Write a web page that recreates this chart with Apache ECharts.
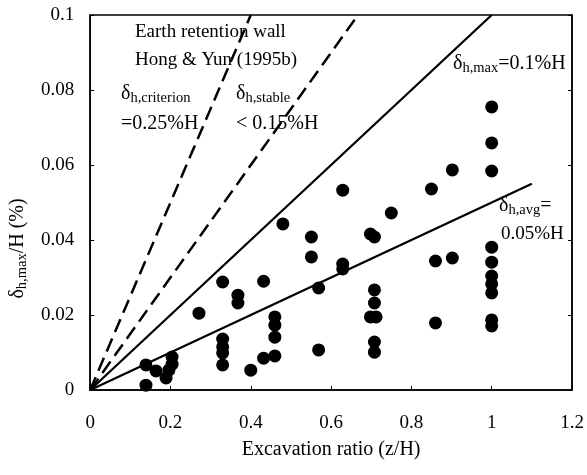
<!DOCTYPE html>
<html><head><meta charset="utf-8">
<script src="https://cdn.jsdelivr.net/npm/echarts@6/dist/echarts.min.js"></script>
<style>html,body{margin:0;padding:0;background:#fff}#c{width:587px;height:475px}</style>
</head><body><div id="c"></div>
<script>
// Scatter data: [z/H, delta_h,max/H (%)]
const points = [
  [0.139,0.0067],[0.139,0.0013],[0.164,0.0051],[0.189,0.0032],[0.196,0.0053],[0.204,0.0088],[0.204,0.0069],
  [0.271,0.0205],
  [0.330,0.0288],[0.330,0.0136],[0.330,0.0115],[0.330,0.0099],[0.330,0.0067],
  [0.368,0.0253],[0.368,0.0232],
  [0.400,0.0053],
  [0.432,0.0290],[0.432,0.0085],
  [0.460,0.0195],[0.460,0.0173],[0.460,0.0141],[0.460,0.0091],
  [0.480,0.0443],
  [0.551,0.0408],[0.551,0.0355],
  [0.569,0.0272],[0.569,0.0107],
  [0.629,0.0533],[0.629,0.0336],[0.629,0.0323],
  [0.698,0.0416],[0.708,0.0408],
  [0.708,0.0267],[0.708,0.0232],[0.698,0.0195],[0.712,0.0195],[0.708,0.0128],[0.708,0.0101],
  [0.750,0.0472],
  [0.850,0.0536],
  [0.860,0.0344],[0.860,0.0179],
  [0.902,0.0587],[0.902,0.0352],
  [1.0,0.0755],[1.0,0.0659],[1.0,0.0584],[1.0,0.0381],[1.0,0.0341],[1.0,0.0304],[1.0,0.0283],[1.0,0.0259],[1.0,0.0187],[1.0,0.0171]
];
// Reference lines (endpoints)
const lineCriterion = [[0,0],[0.4,0.1]];
const lineStable = [[0,0],[0.667,0.1]];
const lineMax = [[0,0],[1.0,0.1]];
const lineAvg = [[0,0],[1.1,0.055]];
const xTicks = [0,0.2,0.4,0.6,0.8,1,1.2];
const yTicks = [0,0.02,0.04,0.06,0.08,0.1];

const serif = 'Liberation Serif';
const chart = echarts.init(document.getElementById('c'));
const richStyles = {
  d: {fontFamily: serif, fontSize: 20, color: '#000'},
  s: {fontFamily: serif, fontSize: 14.5, color: '#000', padding: [9,0,0,0]},
  t: {fontFamily: serif, fontSize: 20, color: '#000'}
};
function txt(x, y, str, size) {
  return {type: 'text', left: x, top: y, style: {text: str, fontFamily: serif, fontSize: size || 20, fill: '#000'}};
}
function rtxt(x, y, str) {
  return {type: 'text', left: x, top: y, style: {text: str, rich: richStyles, fill: '#000'}};
}
chart.setOption({
  backgroundColor: '#fff',
  animation: false,
  grid: {left: 89, right: 15, top: 15, bottom: 85, show: true, borderColor: '#000', borderWidth: 1.5},
  xAxis: {
    type: 'value', min: xTicks[0], max: xTicks[xTicks.length-1], interval: 0.2,
    axisLine: {show: true, lineStyle: {color: '#000', width: 1.5}},
    axisTick: {show: true, inside: true, length: 4, lineStyle: {color: '#000'}},
    splitLine: {show: false},
    axisLabel: {margin: 24, fontFamily: serif, fontSize: 19, color: '#000', formatter: v => String(+v.toFixed(2))},
    name: 'Excavation ratio (z/H)', nameLocation: 'middle', nameGap: 50,
    nameTextStyle: {fontFamily: serif, fontSize: 20, color: '#000'}
  },
  yAxis: [{
    type: 'value', min: yTicks[0], max: yTicks[yTicks.length-1], interval: 0.02,
    axisLine: {show: true, lineStyle: {color: '#000', width: 1.5}},
    axisTick: {show: true, inside: true, length: 4, lineStyle: {color: '#000'}},
    splitLine: {show: false},
    axisLabel: {margin: 16, fontFamily: serif, fontSize: 19, color: '#000', formatter: v => String(+v.toFixed(2))},
    name: '{d|δ}{s|h,max}{t|/H (%)}', nameLocation: 'middle', nameGap: 55, nameRotate: 90,
    nameTextStyle: {rich: richStyles, padding: [0, 92, 0, 0]}
  },{
    type: 'value', position: 'right', min: 0, max: 0.1, interval: 0.02,
    axisLine: {show: true, lineStyle: {color: '#000', width: 1.5}},
    axisTick: {show: true, inside: true, length: 4, lineStyle: {color: '#000'}},
    axisLabel: {show: false}, splitLine: {show: false}
  }],
  series: [
    {type: 'line', data: lineCriterion, symbol: 'none', lineStyle: {color: '#000', width: 2.5, type: [14, 7]}, z: 2},
    {type: 'line', data: lineStable, symbol: 'none', lineStyle: {color: '#000', width: 2.5, type: [14, 7]}, z: 2},
    {type: 'line', data: lineMax, symbol: 'none', lineStyle: {color: '#000', width: 2.3}, z: 2},
    {type: 'line', data: lineAvg, symbol: 'none', lineStyle: {color: '#000', width: 2.3}, z: 2},
    {type: 'scatter', data: points, symbol: 'circle', symbolSize: 13, itemStyle: {color: '#000', opacity: 1}, z: 3}
  ],
  graphic: [
    txt(135, 23, 'Earth retention wall', 19),
    txt(135, 51, 'Hong & Yun (1995b)', 19),
    rtxt(121, 84, '{d|δ}{s|h,criterion}'),
    txt(121, 114, '=0.25%H'),
    rtxt(236, 84, '{d|δ}{s|h,stable}'),
    txt(236, 114, '< 0.15%H'),
    rtxt(453, 54, '{d|δ}{s|h,max}{t|=0.1%H}'),
    rtxt(499, 196, '{d|δ}{s|h,avg}{t|=}'),
    txt(501, 225, '0.05%H', 19)
  ]
});
</script></body></html>
